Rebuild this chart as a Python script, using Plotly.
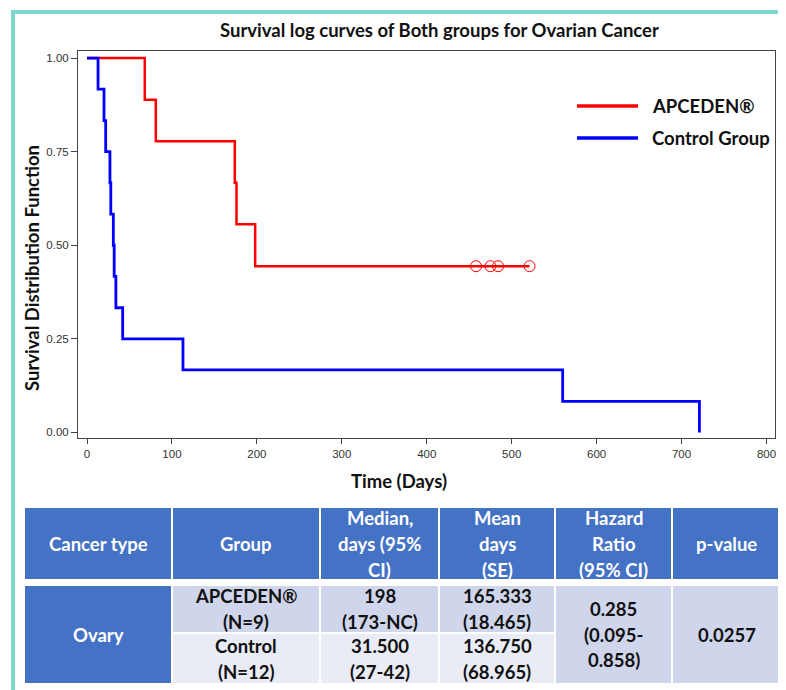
import plotly.graph_objects as go

# ---------------- data ----------------
apceden_event_days = [68, 81, 174, 176, 198]
apceden_surv = [1.0, 0.889, 0.778, 0.667, 0.556, 0.444]
apceden_last_day = 521
apceden_censor_days = [458, 475, 484, 521]
apceden_censor_surv = [0.444, 0.444, 0.444, 0.444]

control_event_days = [13, 20, 22, 27, 28, 31, 32, 34, 42, 113, 560, 721]
control_surv = [1.0, 0.917, 0.833, 0.75, 0.667, 0.583, 0.5, 0.417, 0.333, 0.25, 0.167, 0.083, 0.0]

series_names = ["APCEDEN®", "Control Group"]
series_colors = ["#ff0000", "#0000ff"]

x_ticks = [0, 100, 200, 300, 400, 500, 600, 700, 800]
y_ticks = [0.0, 0.25, 0.5, 0.75, 1.0]

table_header = ["Cancer type", "Group", "Median,\ndays (95%\nCI)", "Mean\ndays\n(SE)", "Hazard\nRatio\n(95% CI)", "p-value"]
table_cancer = "Ovary"
table_groups = ["APCEDEN®\n(N=9)", "Control\n(N=12)"]
table_median = ["198\n(173-NC)", "31.500\n(27-42)"]
table_mean = ["165.333\n(18.465)", "136.750\n(68.965)"]
table_hr = "0.285\n(0.095-\n0.858)"
table_p = "0.0257"

# ---------------- layout geometry (window pixels) ----------------
OFF = 8  # default page body margin
W, H = 786, 690
L, R, T, B = 78, 775, 51, 438  # plot area in window pixels


def px(x):
    return (x - L) / (R - L)


def py(y):
    return (B - y) / (B - T)


fig = go.Figure()

# curves
fig.add_trace(go.Scatter(
    x=[0] + apceden_event_days + [apceden_last_day],
    y=apceden_surv + [apceden_surv[-1]],
    mode="lines", line=dict(color=series_colors[0], width=2.5, shape="hv"),
    name=series_names[0], showlegend=False, hoverinfo="skip"))
fig.add_trace(go.Scatter(
    x=apceden_censor_days, y=apceden_censor_surv, mode="markers",
    marker=dict(symbol="circle-open", size=11, color=series_colors[0], line=dict(width=1)),
    showlegend=False, hoverinfo="skip"))
fig.add_trace(go.Scatter(
    x=[0] + control_event_days, y=control_surv,
    mode="lines", line=dict(color=series_colors[1], width=2.8, shape="hv"),
    name=series_names[1], showlegend=False, hoverinfo="skip"))

shapes = []
annotations = []
TEXT_FONT = "Lato, 'Open Sans', sans-serif"
FS = 18.5

# teal frame (left and top only)
teal = "#7ed8cf"
shapes.append(dict(type="rect", xref="paper", yref="paper", x0=px(11), x1=px(15), y0=py(10), y1=py(H + OFF),
                   fillcolor=teal, line=dict(width=0), layer="below"))
shapes.append(dict(type="rect", xref="paper", yref="paper", x0=px(11), x1=px(W + OFF), y0=py(10), y1=py(14),
                   fillcolor=teal, line=dict(width=0), layer="below"))

# titles
annotations.append(dict(text="Survival log curves of Both groups for Ovarian Cancer", xref="paper", yref="paper",
                        x=px(439), y=py(30), xanchor="center", yanchor="middle", showarrow=False,
                        font=dict(family=TEXT_FONT, size=FS, color="#111", weight="bold")))
annotations.append(dict(text="Survival Distribution Function", xref="paper", yref="paper",
                        x=px(32), y=py(268), xanchor="center", yanchor="middle", showarrow=False, textangle=-90,
                        font=dict(family=TEXT_FONT, size=FS, color="#111", weight="bold")))
annotations.append(dict(text="Time (Days)", xref="paper", yref="paper",
                        x=px(399), y=py(481), xanchor="center", yanchor="middle", showarrow=False,
                        font=dict(family=TEXT_FONT, size=FS, color="#111", weight="bold")))

# legend
for i, (nm, col) in enumerate(zip(series_names, series_colors)):
    yy = 106 + 32 * i
    shapes.append(dict(type="line", xref="paper", yref="paper", x0=px(577), x1=px(638), y0=py(yy), y1=py(yy),
                       line=dict(color=col, width=3.5)))
    annotations.append(dict(text=nm, xref="paper", yref="paper", x=px(650), y=py(yy), xanchor="left",
                            yanchor="middle", showarrow=False,
                            font=dict(family=TEXT_FONT, size=FS, color="#111", weight="bold")))

# table
col_edges = [24, 172, 320, 439, 555, 672, 781]
head_top, head_bot = 507, 580
body_top, body_mid, body_bot = 585, 633, 684
blue = "#4472c4"
row1 = "#cfd5ea"
row2 = "#e9ebf5"
LINE_H = 26


def cell(x0, x1, y0, y1, fill):
    shapes.append(dict(type="rect", xref="paper", yref="paper", x0=px(x0), x1=px(x1), y0=py(y1), y1=py(y0),
                       fillcolor=fill, line=dict(color="white", width=2), layer="below"))


def cell_text(x0, x1, y0, y1, text, color):
    lines = text.split("\n")
    cy = (y0 + y1) / 2
    n = len(lines)
    for k, ln in enumerate(lines):
        yy = cy + (k - (n - 1) / 2) * LINE_H
        annotations.append(dict(text=ln, xref="paper", yref="paper", x=px((x0 + x1) / 2), y=py(yy),
                                xanchor="center", yanchor="middle", showarrow=False,
                                font=dict(family=TEXT_FONT, size=FS, color=color, weight="bold")))


for c, htxt in enumerate(table_header):
    cell(col_edges[c], col_edges[c + 1], head_top, head_bot, blue)
    cell_text(col_edges[c], col_edges[c + 1], head_top, head_bot + 1, htxt, "white")

cell(col_edges[0], col_edges[1], body_top, body_bot, blue)
cell_text(col_edges[0], col_edges[1], body_top, body_bot, table_cancer, "white")
for r, (y0, y1, fill) in enumerate([(body_top, body_mid, row1), (body_mid, body_bot, row2)]):
    for c, vals in zip([1, 2, 3], [table_groups, table_median, table_mean]):
        cell(col_edges[c], col_edges[c + 1], y0, y1, fill)
        cell_text(col_edges[c], col_edges[c + 1], y0, y1, vals[r], "#111")
cell(col_edges[4], col_edges[5], body_top, body_bot, row1)
cell_text(col_edges[4], col_edges[5], body_top, body_bot, table_hr, "#111")
cell(col_edges[5], col_edges[6], body_top, body_bot, row1)
cell_text(col_edges[5], col_edges[6], body_top, body_bot, table_p, "#111")

axis_common = dict(showline=True, mirror=True, linecolor="#444", linewidth=1, ticks="outside",
                   tickcolor="#444", showgrid=False, zeroline=False,
                   tickfont=dict(family="Liberation Sans, Arial, sans-serif", size=11.5, color="#333"))

fig.update_layout(
    width=W, height=H,
    margin=dict(l=L - OFF, r=W - R + OFF, t=T - OFF, b=H - B + OFF, pad=0),
    paper_bgcolor="white", plot_bgcolor="white",
    showlegend=False,
    xaxis=dict(range=[-10.6, 810], tickvals=x_ticks, ticklen=5, **axis_common),
    yaxis=dict(range=[-0.015, 1.019], tickvals=y_ticks, tickformat=".2f", ticklen=6, **axis_common),
    shapes=shapes, annotations=annotations,
)

fig.write_html("out.html")
